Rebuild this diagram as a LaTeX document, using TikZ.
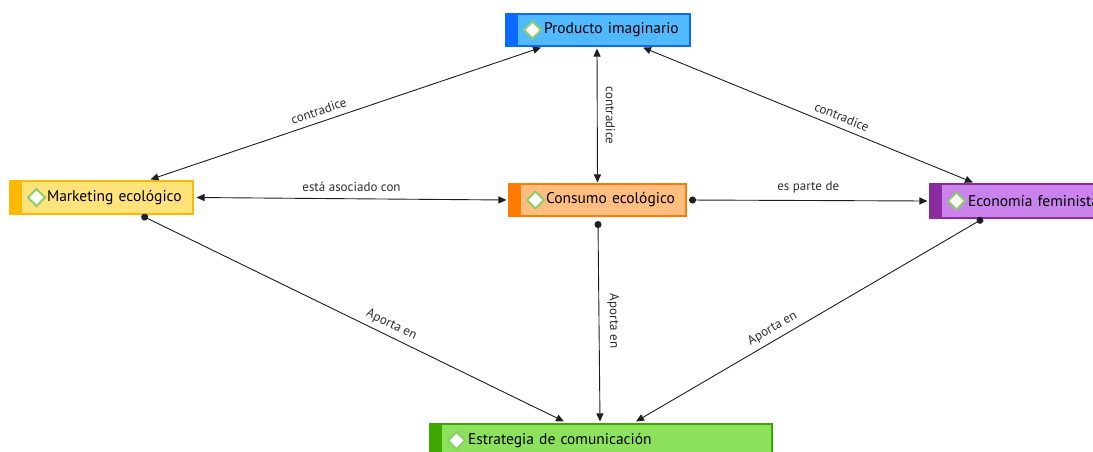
\documentclass[tikz,border=0pt]{standalone}
\usepackage{fontspec}
\setmainfont{PT Sans}
\usepackage{xcolor}
\usetikzlibrary{positioning}
\usetikzlibrary{arrows.meta}

\definecolor{prodfill}{RGB}{80,185,255}
\definecolor{prodbar}{RGB}{10,105,255}
\definecolor{mktfill}{RGB}{255,226,122}
\definecolor{mktbar}{RGB}{255,184,0}
\definecolor{consfill}{RGB}{255,189,128}
\definecolor{consbar}{RGB}{255,122,0}
\definecolor{ecofill}{RGB}{202,130,236}
\definecolor{ecobar}{RGB}{138,44,160}
\definecolor{estfill}{RGB}{140,226,92}
\definecolor{estbar}{RGB}{62,168,0}
\definecolor{icongreen}{RGB}{140,205,105}
\definecolor{linkgray}{RGB}{30,30,30}
\definecolor{labelgray}{RGB}{45,45,45}

\begin{document}
\begin{tikzpicture}
	[x=1pt, y=1pt, line width=0.9pt,
	 tri/.tip = {Triangle[length=8pt, width=7pt]},
	 dot/.tip = {Circle[length=7pt]},
	 concept/.style n args = {3}{draw=#1, fill=#2, line width=1.1pt, rectangle,
		minimum height=32pt, inner xsep=0pt, inner ysep=0pt, align=left,
		font=\fontsize{15.5}{17}\selectfont,
		path picture={
			\fill[#3] (path picture bounding box.north west) rectangle ([xshift=12pt]path picture bounding box.south west);
			\filldraw[fill=white, draw=icongreen, line width=2pt] ([xshift=18pt]path picture bounding box.west) -- ++(8.5pt,8.5pt) -- ++(8.5pt,-8.5pt) -- ++(-8.5pt,-8.5pt) -- cycle;
		}},
	 link/.style = {draw=linkgray},
	 lbl/.style = {font=\fontsize{13}{15}\selectfont, text=labelgray, inner sep=2pt}]
	\useasboundingbox (0,0) rectangle (1093,-451);
	\node[concept={consbar}{consfill}{consbar}, text width=177pt] (cons) at (597.5,-200) {\hspace*{37pt}Consumo ecológico};
	\node[concept={prodbar}{prodfill}{prodbar}, text width=184pt] (prod) [above of = cons, node distance={170pt}, xshift=0.5pt] {\hspace*{38pt}Producto imaginario};
	\node[concept={mktbar}{mktfill}{mktbar}, text width=183pt, minimum height=33pt] (mkt) [left of = cons, node distance={496pt}, yshift=2.5pt] {\hspace*{37pt}Marketing ecológico};
	\node[concept={ecobar}{ecofill}{ecobar}, text width=176pt, minimum height=34pt] (eco) [right of = cons, node distance={420.5pt}, yshift=-1pt] {\hspace*{38pt}Economía feminista};
	\node[concept={estbar}{estfill}{estbar}, text width=342pt, minimum height=33pt] (est) [below of = cons, node distance={240.5pt}, xshift=3.5pt] {\hspace*{38pt}Estrategia de comunicación};
	\draw[link, tri-tri] ([xshift=49pt, yshift=1pt]mkt.north) -- node[lbl, sloped, above=4pt, pos=0.44] {contradice} ([xshift=-57pt, yshift=-1pt]prod.south);
	\draw[link, tri-tri] ([xshift=-1pt, yshift=-2pt]prod.south) -- node[lbl, sloped, above=6pt] {contradice} ([yshift=1pt]cons.north);
	\draw[link, tri-tri] ([xshift=45pt, yshift=-1pt]prod.south) -- node[lbl, sloped, above=4pt, pos=0.59] {contradice} ([xshift=-45pt, yshift=1pt]eco.north);
	\draw[link, tri-tri] ([xshift=3pt]mkt.east) -- node[lbl, above=5pt] {está asociado con} ([xshift=-2pt]cons.west);
	\draw[link, dot-tri] ([xshift=2.5pt]cons.east) -- node[lbl, above=5pt] {es parte de} ([xshift=-2pt]eco.west);
	\draw[link, dot-tri] ([xshift=40pt, yshift=-1pt]mkt.south) -- node[lbl, sloped, above=3pt, pos=0.58] {Aporta en} ([xshift=-37pt, yshift=2pt]est.north);
	\draw[link, dot-tri] ([xshift=0.5pt, yshift=-4.5pt]cons.south) -- node[lbl, sloped, above=6pt] {Aporta en} ([xshift=-1pt, yshift=2pt]est.north);
	\draw[link, dot-tri] ([xshift=-35pt]eco.south) -- node[lbl, sloped, above=3pt, pos=0.59] {Aporta en} ([xshift=35pt, yshift=2pt]est.north);
\end{tikzpicture}
\end{document}
